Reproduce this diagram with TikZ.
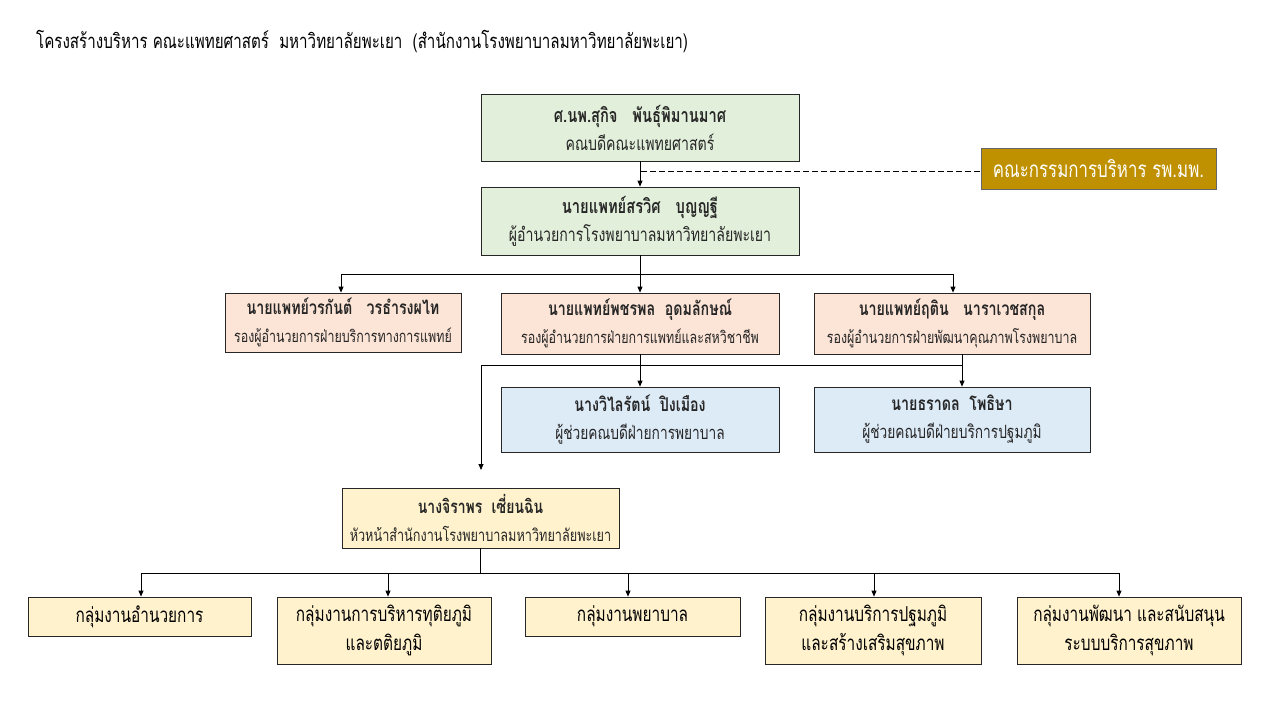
\documentclass[tikz,border=0pt]{standalone}
\usepackage{fontspec}
\usetikzlibrary{arrows.meta,positioning}
\newfontfamily\thai[Script=Thai,FakeStretch=0.75]{Loma}
\definecolor{cgreen}{HTML}{E2EFDA}
\definecolor{cpink}{HTML}{FCE4D6}
\definecolor{cblue}{HTML}{DDEBF7}
\definecolor{cyel}{HTML}{FFF2CC}
\definecolor{cgold}{HTML}{BF9000}
\definecolor{ctext}{HTML}{262626}
\def\nmsz{18}
\tikzset{
  box/.style={draw=black!85,line width=0.8pt,inner sep=0pt,align=center,text=ctext},
  boxsz/.style 2 args={font=\thai\fontsize{#2}{28}\selectfont\def\nmsz{#1}},
  gbox/.style={box,fill=cgreen,boxsz={19.6}{18.8}},
  pbox/.style={box,fill=cpink,boxsz={19}{16.6}},
  bbox/.style={box,fill=cblue,boxsz={19}{18.3}},
  ybox/.style={box,fill=cyel,boxsz={18.6}{16.9}},
  grp/.style={draw=black!85,line width=0.8pt,inner sep=0pt,align=center,text=black,fill=cyel,
    font=\thai\fontsize{20.5}{29}\selectfont},
  arr/.style={draw=black,line width=0.8pt,-{Triangle[length=6pt,width=5pt]}},
  ln/.style={draw=black,line width=0.8pt},
}
\newcommand{\nm}[1]{{\bfseries\fontsize{\nmsz}{28}\selectfont #1}}
\begin{document}
\begin{tikzpicture}[x=1pt,y=-1pt]
\useasboundingbox (0,0) rectangle (1280,720);
\fill[white] (0,0) rectangle (1280,720);
\node[anchor=west,font=\thai\fontsize{20.2}{24}\selectfont,text=black,inner sep=0pt] (title) at (36,42)
  {โครงสร้างบริหาร คณะแพทยศาสตร์\ \ มหาวิทยาลัยพะเยา\ \ (สำนักงานโรงพยาบาลมหาวิทยาลัยพะเยา)};

\node[gbox,minimum width=318pt,minimum height=67pt] (dean) at (640,127.5)
  {\nm{ศ.นพ.สุกิจ\ \ \ พันธุ์พิมานมาศ}\\ คณบดีคณะแพทยศาสตร์};
\node[gbox,minimum width=318pt,minimum height=68pt] (dir) at (640,221)
  {\nm{นายแพทย์สรวิศ\ \ \ บุญญฐี}\\ ผู้อำนวยการโรงพยาบาลมหาวิทยาลัยพะเยา};
\node[draw=black!60,line width=0.8pt,fill=cgold,text=white,minimum width=235pt,minimum height=41pt,
  font=\thai\fontsize{22.5}{26}\selectfont] (com) at (1098.5,168.5) {คณะกรรมการบริหาร รพ.มพ.};

\node[pbox,minimum width=236pt,minimum height=59pt] (dep1) at (343,322.5)
  {\nm{นายแพทย์วรกันต์\ \ \ วรธำรงผไท}\\ รองผู้อำนวยการฝ่ายบริการทางการแพทย์};
\node[pbox,minimum width=278pt,minimum height=61pt] (dep2) at (640,323.5)
  {\nm{นายแพทย์พชรพล\ \ อุดมลักษณ์}\\ รองผู้อำนวยการฝ่ายการแพทย์และสหวิชาชีพ};
\node[pbox,minimum width=276pt,minimum height=61pt] (dep3) at (952,323.5)
  {\nm{นายแพทย์ฤติน\ \ \ นาราเวชสกุล}\\ รองผู้อำนวยการฝ่ายพัฒนาคุณภาพโรงพยาบาล};

\node[bbox,minimum width=278pt,minimum height=65pt] (as1) at (640,419.5)
  {\nm{นางวิไลรัตน์\ \ ปิงเมือง}\\ ผู้ช่วยคณบดีฝ่ายการพยาบาล};
\node[bbox,minimum width=276pt,minimum height=65pt] (as2) at (952,419.5)
  {\nm{นายธราดล\ \ โพธิษา}\\ ผู้ช่วยคณบดีฝ่ายบริการปฐมภูมิ};

\node[ybox,minimum width=277pt,minimum height=60pt] (head) at (480.5,518)
  {\nm{นางจิราพร\ \ เซี่ยนฉิน}\\ หัวหน้าสำนักงานโรงพยาบาลมหาวิทยาลัยพะเยา};

\node[grp,minimum width=223pt,minimum height=39pt] (g1) at (139.5,616.5) {กลุ่มงานอำนวยการ};
\node[grp,minimum width=214pt,minimum height=67pt] (g2) at (384,630.5) {กลุ่มงานการบริหารทุติยภูมิ\\ และตติยภูมิ};
\node[grp,minimum width=215pt,minimum height=39pt] (g3) at (632.5,616.5) {กลุ่มงานพยาบาล};
\node[grp,minimum width=216pt,minimum height=67pt] (g4) at (873,630.5) {กลุ่มงานบริการปฐมภูมิ\\ และสร้างเสริมสุขภาพ};
\node[grp,minimum width=224pt,minimum height=67pt] (g5) at (1129,630.5) {กลุ่มงานพัฒนา และสนับสนุน\\ ระบบบริการสุขภาพ};

% connectors
\draw[arr] (dean) -- (dir);
\coordinate (dj) at (641,171);
\draw[ln,dashed,dash pattern=on 6pt off 3pt] (dj) -- (dj -| com.west);

\coordinate (rj) at (640,274);
\draw[arr] (dir.south) -- (dir.south |- rj) -| ([xshift=-2pt]dep1.north);
\draw[arr] (dir.south) -- (dep2.north);
\draw[arr] (dir.south) -- (dir.south |- rj) -| ([xshift=1pt]dep3.north);

\coordinate (hl) at (481,365);
\coordinate (hend) at (481,470);
\draw[arr] (dep2.south) -- (as1.north);
\draw[arr] ([xshift=10pt]dep3.south) -- ([xshift=10pt]as2.north);
\draw[arr] ([xshift=10pt]dep3.south) |- (hl) -- (hend);

\coordinate (bj) at (481,573);
\draw[arr] (head.south) -- (head.south |- bj) -| ([xshift=1.5pt]g1.north);
\draw[arr] (head.south) -- (head.south |- bj) -| ([xshift=4pt]g2.north);
\draw[arr] (head.south) -- (head.south |- bj) -| ([xshift=-4.5pt]g3.north);
\draw[arr] (head.south) -- (head.south |- bj) -| ([xshift=1pt]g4.north);
\draw[arr] (head.south) -- (head.south |- bj) -| ([xshift=-10pt]g5.north);
\end{tikzpicture}
\end{document}
